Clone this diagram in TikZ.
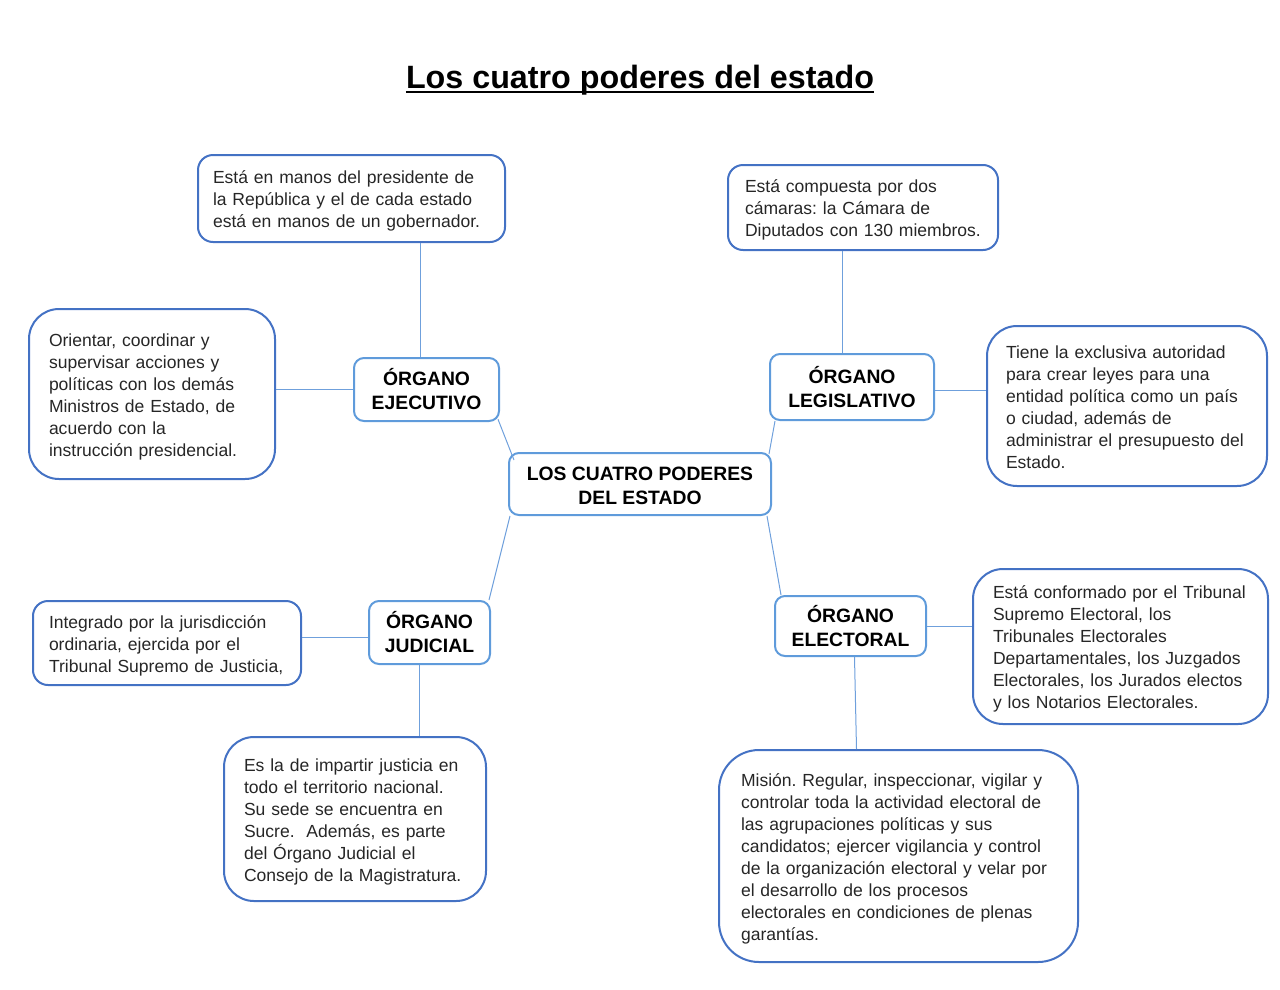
\documentclass[tikz,border=0pt]{standalone}
\usepackage{fontspec}
\setmainfont{Liberation Sans}
\frenchspacing
\definecolor{detblue}{HTML}{4472C4}
\definecolor{orgblue}{HTML}{5F9BDB}
\definecolor{conblue}{HTML}{6FA0DC}
\definecolor{txt}{HTML}{262626}
\newcommand\tl[1]{\raisebox{-2.3pt}[\height][\depth]{\begin{tabular}{@{}l@{}}#1\end{tabular}}}
\newcommand\hd[1]{\raisebox{-2.4pt}[\height][\depth]{\begin{tabular}{@{}c@{}}#1\end{tabular}}}
\tikzset{
  det/.style={draw=detblue, line width=1.5pt, text=txt, inner ysep=0pt,
    font=\fontsize{13.15}{16.5}\selectfont},
  org/.style={draw=orgblue, line width=1.5pt, rounded corners=7.5pt, align=center,
    inner sep=0pt, font=\bfseries\fontsize{14.5}{18}\selectfont},
  con/.style={draw=conblue, line width=0.75pt}
}
\begin{document}
\begin{tikzpicture}[x=0.75pt,y=-0.75pt]
\useasboundingbox (0,0) rectangle (1280,989);
% title
\node[inner sep=0pt, anchor=base, font=\bfseries\fontsize{24.2}{29}\selectfont] (title) at (640,88) {Los cuatro poderes del estado};
\draw[line width=1.5pt] ([yshift=-3.2pt]title.base west) -- ([yshift=-3.2pt]title.base east);

% organ nodes
\node[org, minimum width=108.75pt, minimum height=47.25pt] (ej) at (426.5,389.5) {\hd{ÓRGANO\\EJECUTIVO}};
\node[org, minimum width=123pt, minimum height=49.5pt] (leg) at (852,387) {\hd{ÓRGANO\\LEGISLATIVO}};
\node[org, minimum width=196.5pt, minimum height=46.5pt] (cen) at (640,484) {\hd{LOS CUATRO PODERES\\DEL ESTADO}};
\node[org, minimum width=90.75pt, minimum height=47.25pt] (jud) at (429.5,632.5) {\hd{ÓRGANO\\JUDICIAL}};
\node[org, minimum width=113.25pt, minimum height=45pt] (ele) at (850.5,626) {\hd{ÓRGANO\\ELECTORAL}};

% detail boxes
\node[det, rounded corners=11.25pt, minimum width=230.25pt, minimum height=65.25pt, inner xsep=11.25pt, text width=207.75pt] (tlb) at (351.5,198.5)
 {\tl{Está en manos del presidente de\\la República y el de cada estado\\está en manos de un gobernador.}};
\node[det, rounded corners=11.25pt, minimum width=202.5pt, minimum height=63.75pt, inner xsep=12.75pt, text width=177pt] (trb) at (863,207.5)
 {\tl{Está compuesta por dos\\cámaras: la Cámara de\\Diputados con 130 miembros.}};
\node[det, rounded corners=22.5pt, minimum width=184.5pt, minimum height=127.5pt, inner xsep=15pt, text width=154.5pt] (lft) at (152,394)
 {\tl{Orientar, coordinar y\\supervisar acciones y\\políticas con los demás\\Ministros de Estado, de\\acuerdo con la\\instrucción presidencial.}};
\node[det, rounded corners=22.5pt, minimum width=210pt, minimum height=120pt, inner xsep=14.25pt, text width=181.5pt] (rgt) at (1127,406)
 {\tl{Tiene la exclusiva autoridad\\para crear leyes para una\\entidad política como un país\\o ciudad, además de\\administrar el presupuesto del\\Estado.}};
\node[det, rounded corners=11.25pt, minimum width=201pt, minimum height=63pt, inner xsep=12pt, text width=177pt] (lb) at (167,643)
 {\tl{Integrado por la jurisdicción\\ordinaria, ejercida por el\\Tribunal Supremo de Justicia,}};
\node[det, rounded corners=22.5pt, minimum width=221.25pt, minimum height=116.25pt, inner xsep=15pt, text width=191.25pt] (rb) at (1120.5,646.5)
 {\tl{Está conformado por el Tribunal\\Supremo Electoral, los\\Tribunales Electorales\\Departamentales, los Juzgados\\Electorales, los Jurados electos\\y los Notarios Electorales.}};
\node[det, rounded corners=22.5pt, minimum width=196.5pt, minimum height=123pt, inner xsep=15pt, text width=166.5pt] (jd) at (355,819)
 {\tl{Es la de impartir justicia en\\todo el territorio nacional.\\Su sede se encuentra en\\Sucre.\ \ Además, es parte\\del Órgano Judicial el\\Consejo de la Magistratura.}};
\node[det, rounded corners=30pt, minimum width=269.25pt, minimum height=159pt, inner xsep=16.5pt, text width=236.25pt] (mis) at (898.5,856)
 {\tl{Misión. Regular, inspeccionar, vigilar y\\controlar toda la actividad electoral de\\las agrupaciones políticas y sus\\candidatos; ejercer vigilancia y control\\de la organización electoral y velar por\\el desarrollo de los procesos\\electorales en condiciones de plenas\\garantías.}};

% connectors
\draw[con] ([xshift=-4.5pt]ej.north) -- ([xshift=-4.5pt]ej.north |- tlb.south);
\draw[con] (ej.west) -- (ej.west -| lft.east);
\draw[con] ([xshift=-1.5pt,yshift=2pt]ej.south east) -- ([xshift=4.5pt,yshift=-6pt]cen.north west);
\draw[con] ([xshift=4.5pt]leg.south west) -- ([xshift=-2.25pt,yshift=-1.5pt]cen.north east);
\draw[con] ([xshift=1.5pt]cen.south west) -- ([xshift=-1.5pt]jud.north east);
\draw[con] ([xshift=-3.75pt]cen.south east) -- ([xshift=5.25pt]ele.north west);
\draw[con] ([xshift=-7.5pt]leg.north) -- ([xshift=-7.5pt]leg.north |- trb.south);
\draw[con] ([yshift=-2.25pt]leg.east) -- ([yshift=-2.25pt]leg.east -| rgt.west);
\draw[con] ([yshift=-4pt]jud.west) -- ([yshift=-4pt]jud.west -| lb.east);
\draw[con] ([xshift=-7.5pt]jud.south) -- ([xshift=-7.5pt]jud.south |- jd.north);
\draw[con] (ele.east) -- (ele.east -| rb.west);
\draw[con] ([xshift=3pt]ele.south) -- ([xshift=4.5pt]ele.south |- mis.north);
\end{tikzpicture}
\end{document}
